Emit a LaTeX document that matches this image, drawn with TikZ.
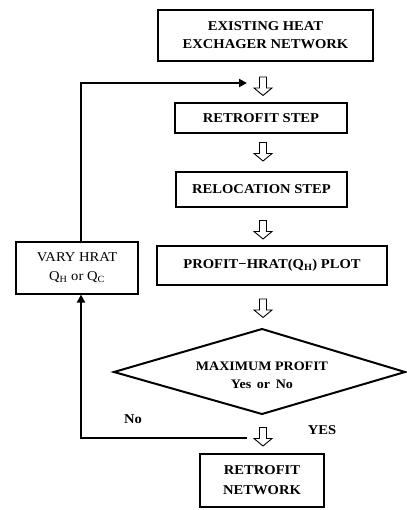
\documentclass[tikz,border=0pt]{standalone}
\usepackage{fontspec}
\setmainfont{Liberation Serif}[FakeStretch=1.08]
\usetikzlibrary{arrows.meta}
\begin{document}
\begin{tikzpicture}[x=1pt,y=-1pt,
  stepbox/.style={draw,line width=2.6pt,align=center,inner sep=0pt,
    font=\fontsize{13.5}{18}\selectfont\bfseries},
  plainbox/.style={draw,line width=1.2pt,align=center,inner sep=0pt,
    font=\fontsize{13.5}{19}\selectfont},
  decisiontext/.style={align=center,inner sep=0pt,
    font=\fontsize{13}{18}\selectfont\bfseries},
  decisionline/.style={line width=2pt,line join=miter},
  hollowdown/.pic={
    \draw[line width=0.9pt,fill=white,line join=miter]
      (-3.5,-9) -- (3.5,-9) -- (3.5,2) -- (9,2) -- (0,9.5) -- (-9,2) -- (-3.5,2) -- cycle;},
  looparrow/.style={line width=2.6pt,-{Triangle[length=8pt,width=8pt]}},
  tag/.style={font=\fontsize{13.5}{15}\selectfont\bfseries,inner sep=0pt}
]
\useasboundingbox (0,0) rectangle (406,510);

% main chain of steps
\node[stepbox,minimum width=215,minimum height=51] (exist) at (265.5,35.5)
  {EXISTING HEAT\\EXCHAGER NETWORK};
\node[stepbox,minimum width=172,minimum height=30] (retro) at (261,118) {RETROFIT STEP};
\node[stepbox,minimum width=171,minimum height=35] (reloc) at (261.5,189.5) {RELOCATION STEP};
\node[stepbox,minimum width=230,minimum height=39] (plot) at (272,265.5)
  {PROFIT−HRAT(Q\textsubscript{H}) PLOT};

% decision diamond
\coordinate (dtop) at (262,329);
\coordinate (dright) at (405,372);
\coordinate (dbottom) at (262,414);
\coordinate (dleft) at (114,372);
\draw[decisionline] (dtop) -- (dright) -- (dbottom) -- (dleft) -- cycle;
\node[decisiontext] (maxp) at (262,375) {MAXIMUM PROFIT\\Yes\, or\, No};

\node[stepbox,minimum width=124,minimum height=53,
  font=\fontsize{13.5}{20}\selectfont\bfseries] (net) at (262,480.5)
  {RETROFIT\\NETWORK};

% side box of the loop
\node[plainbox,minimum width=122,minimum height=52] (vary) at (77,268)
  {VARY HRAT\\Q\textsubscript{H} or Q\textsubscript{C}};

% hollow flow arrows between the steps
\pic at (263,86) {hollowdown};
\pic at (263,151.5) {hollowdown};
\pic at (263,229.5) {hollowdown};
\pic at (263,308) {hollowdown};
\pic at (263,436.5) {hollowdown};

% loop back to the start
\coordinate (nostart) at (247,438);
\coordinate (nocorner) at (81,438);
\coordinate (upcorner) at (81,83);
\coordinate (upend) at (247,83);
\draw[looparrow] (nostart) -- (nocorner) -- (vary.south -| nocorner);
\draw[looparrow] (vary.north -| upcorner) -- (upcorner) -- (upend);

% branch labels
\node[tag] (nolab) at (133,419) {No};
\node[tag] (yeslab) at (322,430) {YES};
\end{tikzpicture}
\end{document}
